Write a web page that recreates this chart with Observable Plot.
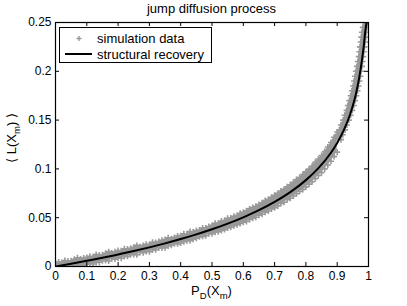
<!DOCTYPE html>
<html><head><meta charset="utf-8">
<script src="https://cdn.jsdelivr.net/npm/d3@7"></script>
<script src="https://cdn.jsdelivr.net/npm/@observablehq/plot@0.6"></script>
<style>body{margin:0;background:#fff;}</style>
</head><body><div id="chart"></div>
<script>
// ---- data ----
const titleText = "jump diffusion process";
const seriesNames = ["simulation data", "structural recovery"];
const xTicks = [0,0.1,0.2,0.3,0.4,0.5,0.6,0.7,0.8,0.9,1];
const yTicks = [0,0.05,0.1,0.15,0.2,0.25];

const curveX = [0,0.05,0.1,0.15,0.2,0.25,0.3,0.35,0.4,0.45,0.5,0.55,0.6,0.65,0.7,0.75,0.8,0.84,0.88,0.9,0.92,0.94,0.96,0.97,0.98,0.985,0.99,0.994];
const curveY = [0,0.0028,0.0058,0.0089,0.0123,0.0158,0.0196,0.0237,0.0281,0.0329,0.0381,0.0439,0.0504,0.0577,0.0662,0.0762,0.0885,0.1008,0.1166,0.1266,0.1389,0.1547,0.1770,0.1929,0.2135,0.226,0.2418,0.25];

const bandX = [0,0.01,0.02,0.03,0.04,0.05,0.06,0.07,0.08,0.09,
0.10,0.11,0.12,0.13,0.14,0.15,0.16,0.17,0.18,0.19,
0.20,0.21,0.22,0.23,0.24,0.25,0.26,0.27,0.28,0.29,
0.30,0.31,0.32,0.33,0.34,0.35,0.36,0.37,0.38,0.39,
0.40,0.41,0.42,0.43,0.44,0.45,0.46,0.47,0.48,0.49,
0.50,0.51,0.52,0.53,0.54,0.55,0.56,0.57,0.58,0.59,
0.60,0.61,0.62,0.63,0.64,0.65,0.66,0.67,0.68,0.69,
0.70,0.71,0.72,0.73,0.74,0.75,0.76,0.77,0.78,0.79,
0.80,0.81,0.82,0.83,0.84,0.85,0.86,0.87,0.88,0.89,
0.90];
const bandLo = [0.0005,0.0000,0.0000,0.0002,0.0000,0.0000,0.0004,0.0005,0.0016,0.0012,
0.0023,0.0034,0.0025,0.0042,0.0043,0.0059,0.0061,0.0057,0.0079,0.0076,
0.0088,0.0085,0.0102,0.0104,0.0121,0.0123,0.0121,0.0143,0.0141,0.0153,
0.0151,0.0169,0.0172,0.0190,0.0189,0.0192,0.0210,0.0219,0.0233,0.0232,
0.0241,0.0255,0.0265,0.0264,0.0279,0.0289,0.0304,0.0309,0.0315,0.0335,
0.0336,0.0352,0.0356,0.0370,0.0378,0.0394,0.0402,0.0418,0.0427,0.0440,
0.0453,0.0462,0.0481,0.0495,0.0505,0.0525,0.0535,0.0557,0.0568,0.0590,
0.0602,0.0621,0.0645,0.0659,0.0685,0.0700,0.0722,0.0745,0.0770,0.0790,
0.0816,0.0844,0.0868,0.0900,0.0932,0.0962,0.1000,0.1040,0.1078,0.1126,
0.1172];
const bandHi = [0.0035,0.0045,0.0041,0.0062,0.0057,0.0058,0.0074,0.0090,0.0076,0.0087,
0.0093,0.0104,0.0100,0.0122,0.0118,0.0119,0.0136,0.0152,0.0139,0.0151,
0.0163,0.0160,0.0182,0.0179,0.0186,0.0198,0.0216,0.0203,0.0216,0.0228,
0.0226,0.0249,0.0247,0.0255,0.0269,0.0277,0.0295,0.0284,0.0298,0.0312,
0.0316,0.0335,0.0335,0.0359,0.0354,0.0369,0.0374,0.0394,0.0395,0.0410,
0.0421,0.0442,0.0443,0.0465,0.0472,0.0494,0.0497,0.0515,0.0523,0.0546,
0.0556,0.0570,0.0590,0.0605,0.0616,0.0636,0.0653,0.0675,0.0688,0.0710,
0.0730,0.0749,0.0773,0.0790,0.0817,0.0838,0.0862,0.0890,0.0912,0.0942,
0.0970,0.0998,0.1030,0.1068,0.1102,0.1138,0.1177,0.1224,0.1270,0.1324,
0.1378];
const steepY = [0.130,0.135,0.140,0.145,0.150,0.155,0.160,0.165,0.170,0.175,0.180,0.185,0.190,0.195,0.200,0.205,0.210,0.215,0.220,0.225,0.230,0.235,0.240,0.245,0.250];
const steepXL = [0.893,0.901,0.907,0.912,0.919,0.924,0.930,0.934,0.939,0.943,0.947,0.951,0.954,0.957,0.960,0.963,0.966,0.969,0.971,0.973,0.975,0.977,0.979,0.982,0.985];
const steepXR = [0.912,0.918,0.925,0.931,0.937,0.943,0.948,0.953,0.957,0.961,0.965,0.968,0.971,0.974,0.976,0.979,0.981,0.983,0.985,0.987,0.989,0.991,0.993,0.995,0.997];

// ---- build ----
const W = 407, H = 306, mL = 55, mR = 39, mT = 22, mB = 40;
const iw = W - mL - mR, ih = H - mT - mB;
const gray = "#999999";
const bandRows = bandX.map((x, i) => ({x, lo: bandLo[i], hi: bandHi[i]}));
const steepRows = steepY.map((y, i) => ({y, xl: steepXL[i], xr: steepXR[i]}));
const curveRows = curveX.map((x, i) => ({x, y: curveY[i]}));
const fmt = d => String(+(+d).toFixed(2));
const dotOpts = {symbol: "plus", r: 2.1, stroke: gray, strokeWidth: 1.6, clip: true};
const font = "'Liberation Sans', Arial, sans-serif";

const plot = Plot.plot({
  width: W, height: H, marginLeft: mL, marginRight: mR, marginTop: mT, marginBottom: mB,
  style: {fontFamily: font, fontSize: "12px", background: "white", color: "black"},
  x: {domain: [0, 1], label: null},
  y: {domain: [0, 0.25], label: null},
  marks: [
    Plot.areaY(bandRows, {x: "x", y1: "lo", y2: "hi", fill: gray, clip: true}),
    Plot.areaX(steepRows, {y: "y", x1: "xl", x2: "xr", fill: gray, clip: true}),
    Plot.dot(bandRows, {x: "x", y: "lo", ...dotOpts}),
    Plot.dot(bandRows, {x: "x", y: "hi", ...dotOpts}),
    Plot.dot(steepRows, {x: "xl", y: "y", ...dotOpts}),
    Plot.dot(steepRows, {x: "xr", y: "y", ...dotOpts}),
    Plot.line(curveRows, {x: "x", y: "y", stroke: "black", strokeWidth: 2, curve: "monotone-x", clip: true}),
    Plot.frame({stroke: "black", strokeWidth: 1.2}),
    Plot.tickX(xTicks, {x: d => d, insetTop: ih - 4, stroke: "black"}),
    Plot.tickX(xTicks, {x: d => d, insetBottom: ih - 4, stroke: "black"}),
    Plot.tickY(yTicks, {y: d => d, insetRight: iw - 4, stroke: "black"}),
    Plot.tickY(yTicks, {y: d => d, insetLeft: iw - 4, stroke: "black"}),
    Plot.axisX({ticks: xTicks, tickSize: 0, tickPadding: 5, tickFormat: fmt, label: null}),
    Plot.axisY({ticks: yTicks, tickSize: 0, tickPadding: 4, tickFormat: fmt, label: null})
  ]
});
document.getElementById("chart").appendChild(plot);

const svg = d3.select(plot);
function txt(parent) {
  return parent.append("text").attr("font-family", font).attr("font-size", 13)
    .attr("fill", "black").style("font-size", "13px").style("font-family", font);
}
txt(svg).attr("x", mL + iw / 2).attr("y", 13).attr("text-anchor", "middle").style("text-anchor", "middle").text(titleText);

function subText(parent, parts, subSize) {
  parts.forEach(([t, sub], i) => {
    const ts = parent.append("tspan").text(t);
    if (sub) ts.style("font-size", subSize + "px").attr("dy", i === 0 ? 0 : 3.5);
    else if (i > 0 && parts[i - 1][1]) ts.attr("dy", -3.5);
  });
}
const xl = txt(svg).attr("x", mL + iw / 2).attr("y", 295).attr("text-anchor", "middle").style("text-anchor", "middle");
subText(xl, [["P", false], ["D", true], ["(X", false], ["m", true], [")", false]], 9.5);
const yl = txt(svg).attr("transform", "translate(16,138) rotate(-90)").attr("text-anchor", "middle").style("text-anchor", "middle");
subText(yl, [["\u27E8 L(X", false], ["m", true], [") \u27E9", false]], 9.5);

const lg = svg.append("g");
lg.append("rect").attr("x", 59.5).attr("y", 27.5).attr("width", 152).attr("height", 35)
  .attr("fill", "white").attr("stroke", "black").attr("stroke-width", 1);
lg.append("path").attr("d", "M76.5,38.5h5M79,36v5").attr("stroke", gray).attr("stroke-width", 1.4);
lg.append("line").attr("x1", 65).attr("x2", 92).attr("y1", 54).attr("y2", 54).attr("stroke", "black").attr("stroke-width", 2);
txt(lg).attr("x", 97).attr("y", 38.5).attr("dy", "0.35em").attr("text-anchor", "start").style("text-anchor", "start").text(seriesNames[0]);
txt(lg).attr("x", 97).attr("y", 54).attr("dy", "0.35em").attr("text-anchor", "start").style("text-anchor", "start").text(seriesNames[1]);
</script>
</body></html>
